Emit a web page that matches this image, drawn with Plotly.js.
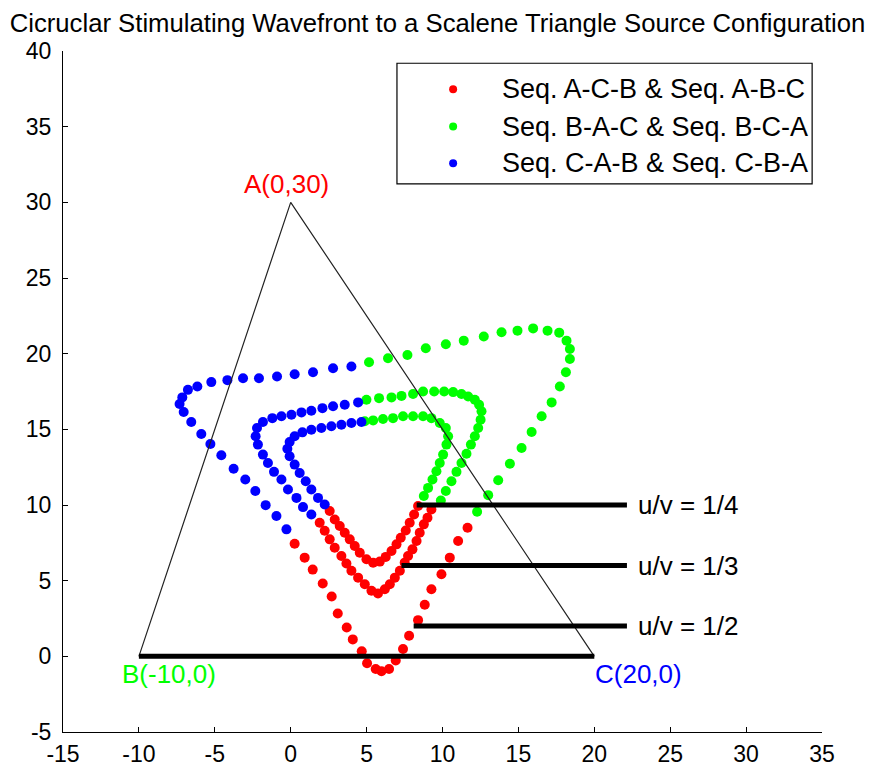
<!DOCTYPE html>
<html>
<head>
<meta charset="utf-8">
<script src="https://cdn.plot.ly/plotly-3.0.1.min.js"></script>
<style>html,body{margin:0;padding:0;background:#fff}#chart{width:875px;height:769px}</style>
</head>
<body>
<div id="chart"></div>
<script>
// ---- u/v = 1/2 (outer curve) ----
const halfBlueX = [4.00, 2.79, 1.47, 0.26, -0.90, -2.09, -3.14, -4.17, -5.23, -6.15, -6.77, -7.14, -7.32, -7.05, -6.55, -5.89, -5.29, -4.57, -3.76, -2.99, -2.33, -1.65, -0.94, -0.28];
const halfBlueY = [19.15, 19.04, 18.77, 18.64, 18.49, 18.38, 18.38, 18.25, 18.12, 17.83, 17.61, 17.11, 16.67, 16.14, 15.48, 14.69, 14.03, 13.29, 12.40, 11.68, 10.92, 9.99, 9.27, 8.39];
const halfRedX = [0.26, 0.92, 1.45, 2.11, 2.70, 3.10, 3.69, 4.09, 4.68, 5.03, 5.60, 5.98, 6.48, 6.92, 7.40, 7.80, 8.39, 8.83, 9.27, 9.93, 10.48, 11.03, 11.65];
const halfRedY = [7.44, 6.52, 5.73, 4.81, 3.95, 2.83, 1.91, 1.12, 0.33, -0.46, -0.84, -0.99, -0.84, -0.28, 0.48, 1.36, 2.39, 3.41, 4.43, 5.42, 6.52, 7.62, 8.50];
const halfGreenX = [12.28, 13.01, 13.67, 14.44, 15.21, 15.87, 16.53, 17.19, 17.73, 18.13, 18.39, 18.39, 18.17, 17.69, 16.92, 15.97, 14.94, 13.89, 12.72, 11.40, 10.22, 8.90, 7.69, 6.41, 5.16];
const halfGreenY = [9.55, 10.65, 11.64, 12.73, 13.77, 14.82, 15.86, 16.78, 17.83, 18.77, 19.65, 20.31, 20.86, 21.39, 21.52, 21.67, 21.52, 21.41, 21.13, 20.86, 20.62, 20.36, 19.91, 19.70, 19.43];

// ---- u/v = 1/3 (middle curve) ----
const thirdBlueX = [4.44, 3.56, 2.79, 2.09, 1.36, 0.71, 0.05, -0.61, -1.21, -1.83, -2.22, -2.31, -2.16, -1.83, -1.50, -1.10, -0.61, -0.18, 0.38, 0.81, 1.36];
const thirdBlueY = [16.78, 16.62, 16.52, 16.40, 16.23, 16.12, 15.96, 15.86, 15.74, 15.48, 15.09, 14.54, 13.99, 13.33, 12.78, 12.19, 11.68, 11.02, 10.47, 9.86, 9.37];
const thirdRedX = [1.91, 2.24, 2.57, 2.90, 3.34, 3.67, 4.00, 4.44, 4.88, 5.32, 5.75, 6.20, 6.53, 6.86, 7.19, 7.51, 7.73, 8.02, 8.29, 8.50, 8.77, 9.01, 9.27];
const thirdRedY = [8.83, 8.30, 7.73, 7.18, 6.63, 6.13, 5.65, 5.20, 4.76, 4.33, 4.15, 4.43, 4.76, 5.20, 5.65, 6.19, 6.63, 7.07, 7.62, 8.17, 8.72, 9.16, 9.70];
const thirdGreenX = [9.89, 10.22, 10.59, 10.92, 11.25, 11.58, 11.87, 12.13, 12.35, 12.51, 12.57, 12.41, 12.13, 11.69, 11.25, 10.70, 10.11, 9.45, 8.72, 8.06, 7.30, 6.64, 5.82, 4.99];
const thirdGreenY = [10.30, 10.92, 11.57, 12.19, 12.78, 13.39, 13.99, 14.54, 15.09, 15.63, 16.19, 16.62, 16.95, 17.17, 17.33, 17.46, 17.50, 17.50, 17.50, 17.33, 17.21, 17.11, 17.06, 16.95];

// ---- u/v = 1/4 (inner curve) ----
const quarterBlueX = [4.66, 4.00, 3.34, 2.68, 2.02, 1.36, 0.77, 0.26, -0.07, -0.22, -0.07, 0.26, 0.59, 0.99, 1.36, 1.80, 2.24];
const quarterBlueY = [15.48, 15.42, 15.30, 15.20, 15.09, 14.97, 14.80, 14.54, 14.16, 13.72, 13.22, 12.67, 12.12, 11.57, 11.02, 10.47, 10.03];
const quarterRedX = [2.57, 2.90, 3.23, 3.56, 3.89, 4.22, 4.55, 4.99, 5.43, 5.87, 6.26, 6.64, 6.97, 7.25, 7.58, 7.84, 8.13, 8.39];
const quarterRedY = [9.60, 9.04, 8.61, 8.17, 7.73, 7.29, 6.85, 6.41, 6.19, 6.26, 6.57, 6.96, 7.40, 7.84, 8.32, 8.83, 9.37, 9.93];
const quarterGreenX = [8.77, 9.05, 9.34, 9.60, 9.82, 10.04, 10.26, 10.37, 10.22, 9.82, 9.27, 8.72, 8.06, 7.40, 6.74, 6.08, 5.43, 4.88];
const quarterGreenY = [10.59, 11.13, 11.68, 12.23, 12.78, 13.33, 13.99, 14.54, 15.09, 15.42, 15.74, 15.86, 15.86, 15.86, 15.74, 15.68, 15.59, 15.53];

// ---- triangle sources ----
const triX = [-10, 0, 20];
const triY = [0, 30, 0];
const sourceNames = ["A(0,30)", "B(-10,0)", "C(20,0)"];

// ---- black reference segments (y = base, 1/2, 1/3, 1/4) ----
const segX0 = [-10, 8.1, 7.3, 8.3];
const segX1 = [20, 22.15, 22.15, 22.15];
const segY = [0, 2, 6, 10];
const ratioLabels = ["u/v = 1/2", "u/v = 1/3", "u/v = 1/4"];

// ---- legend / axes ----
const legendNames = ["Seq. A-C-B & Seq. A-B-C", "Seq. B-A-C & Seq. B-C-A", "Seq. C-A-B & Seq. C-B-A"];
const seriesColors = ["#FF0000", "#00FF00", "#0000FF"];
const xTicks = [-15, -10, -5, 0, 5, 10, 15, 20, 25, 30, 35];
const yTicks = [-5, 0, 5, 10, 15, 20, 25, 30, 35, 40];
const titleText = "Cicruclar Stimulating Wavefront to a Scalene Triangle Source Configuration";

const FONT = "Liberation Sans, Arial, Helvetica, sans-serif";

const redX = [].concat(halfRedX, thirdRedX, quarterRedX);
const redY = [].concat(halfRedY, thirdRedY, quarterRedY);
const greenX = [].concat(halfGreenX, thirdGreenX, quarterGreenX);
const greenY = [].concat(halfGreenY, thirdGreenY, quarterGreenY);
const blueX = [].concat(halfBlueX, thirdBlueX, quarterBlueX);
const blueY = [].concat(halfBlueY, thirdBlueY, quarterBlueY);

const traces = [];
[[redX, redY], [greenX, greenY], [blueX, blueY]].forEach(function (p, i) {
  traces.push({
    type: "scatter", mode: "markers", x: p[0], y: p[1], name: legendNames[i],
    marker: {color: seriesColors[i], size: 10, line: {width: 0}},
    showlegend: false, hoverinfo: "x+y"
  });
});
// triangle edges
traces.push({
  type: "scatter", mode: "lines", x: triX, y: triY,
  line: {color: "#222", width: 1.2}, showlegend: false, hoverinfo: "skip"
});
// thick black dotted segments
for (let i = 0; i < segY.length; i++) {
  traces.push({
    type: "scatter", mode: "lines", x: [segX0[i], segX1[i]], y: [segY[i], segY[i]],
    line: {color: "#000", width: 5}, showlegend: false, hoverinfo: "skip"
  });
}

const annotations = [];
// source labels
const srcPos = [[-0.3, 31.2], [-8.0, -1.15], [22.9, -1.15]];
for (let i = 0; i < 3; i++) {
  annotations.push({
    xref: "x", yref: "y", x: srcPos[i][0], y: srcPos[i][1], text: sourceNames[i],
    showarrow: false, xanchor: "center", yanchor: "middle",
    font: {family: FONT, size: 26, color: seriesColors[i]}
  });
}
// ratio labels
for (let i = 0; i < 3; i++) {
  annotations.push({
    xref: "x", yref: "y", x: 22.75, y: segY[i + 1], text: ratioLabels[i],
    showarrow: false, xanchor: "left", yanchor: "middle",
    font: {family: FONT, size: 26, color: "#000"}
  });
}
// manual legend
const legY = [0.944, 0.889, 0.835];
const shapes = [{
  type: "rect", xref: "paper", yref: "paper", x0: 0.44, x1: 0.987, y0: 0.805, y1: 0.982,
  line: {color: "#000", width: 1.2}, fillcolor: "#fff", layer: "above"
}];
for (let i = 0; i < 3; i++) {
  shapes.push({
    type: "circle", xref: "paper", yref: "paper", xsizemode: "pixel", ysizemode: "pixel",
    xanchor: 0.514, yanchor: legY[i], x0: -4, x1: 4, y0: -4, y1: 4,
    fillcolor: seriesColors[i], line: {width: 0}, layer: "above"
  });
  annotations.push({
    xref: "paper", yref: "paper", x: 0.576, y: legY[i], text: legendNames[i],
    showarrow: false, xanchor: "left", yanchor: "middle",
    font: {family: FONT, size: 27, color: "#000"}
  });
}

const axisCommon = {
  showline: true, linecolor: "#000", linewidth: 1, mirror: false,
  ticks: "inside", ticklen: 5, tickcolor: "#000", tickwidth: 1,
  showgrid: false, zeroline: false,
  tickfont: {family: FONT, size: 23, color: "#000"}
};

const layout = Object.assign({
  width: 875, height: 769,
  margin: {l: 63, r: 53, t: 51, b: 37},
  paper_bgcolor: "#fff", plot_bgcolor: "#fff",
  showlegend: false,
  font: {family: FONT, color: "#000"},
  title: {
    text: titleText, xref: "container", yref: "container", x: 0.5, y: 0.97,
    xanchor: "center", yanchor: "middle",
    font: {family: FONT, size: 25.7, color: "#000"}
  },
  xaxis: Object.assign({}, axisCommon, {range: [-15, 35], tickmode: "array", tickvals: xTicks, ticktext: xTicks.map(String), ticklabelstandoff: 1}),
  yaxis: Object.assign({}, axisCommon, {range: [-5, 40], tickmode: "array", tickvals: yTicks, ticktext: yTicks.map(String), ticklabelstandoff: 6}),
  annotations: annotations,
  shapes: shapes
});

Plotly.newPlot("chart", traces, layout, {displayModeBar: false, staticPlot: true});
</script>
</body>
</html>
